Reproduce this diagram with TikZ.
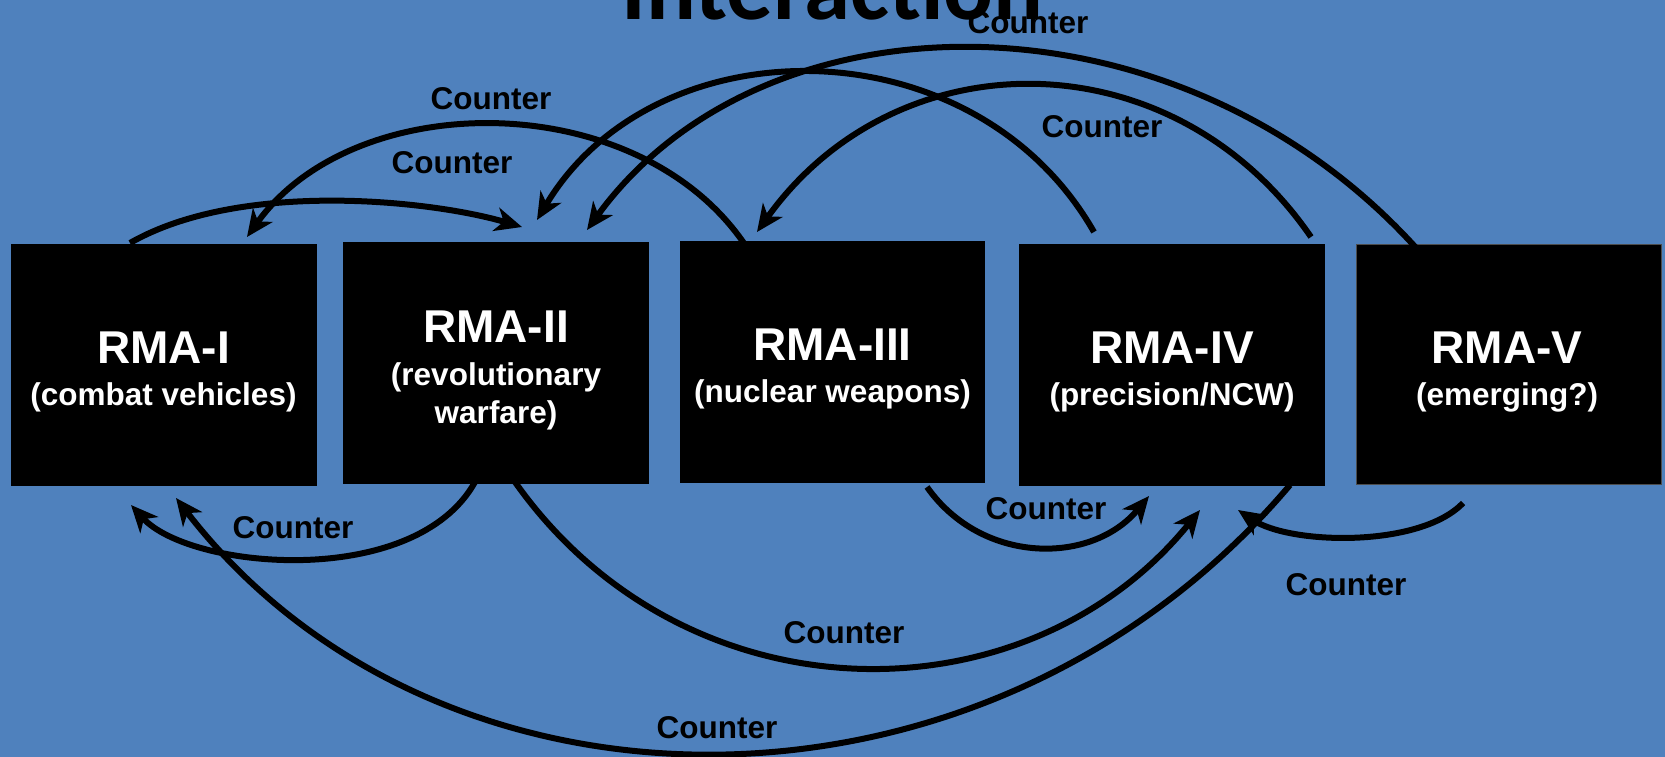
\documentclass[tikz,border=0pt]{standalone}
\usepackage{fontspec}
\setmainfont{Liberation Sans}
\newfontfamily\titlefont{Carlito}
\usetikzlibrary{arrows.meta}
\definecolor{bg}{RGB}{79,129,189}
\begin{document}
\begin{tikzpicture}[x=1pt,y=-1pt,
  box/.style={fill=black, inner sep=0, outer sep=0},
  big/.style={text=white, font=\fontsize{46}{46}\selectfont\bfseries, anchor=base, inner sep=0},
  sub/.style={text=white, font=\fontsize{31.5}{31.5}\selectfont\bfseries, anchor=base, inner sep=0},
  cnt/.style={font=\fontsize{31.5}{31.5}\selectfont\bfseries, inner sep=0},
  arr/.style={line width=6pt, -{Stealth[length=27pt,width=24pt,inset=8pt]}}
]
\path[fill=bg] (0,0) rectangle (1665,757);
\useasboundingbox (0,0) rectangle (1665,757);

% title (cropped at top)
\node[font=\titlefont\fontsize{93}{93}\selectfont\bfseries, anchor=base, inner sep=0] (title) at (832.5,20) {Interaction};

% boxes
\node[box, minimum width=306pt, minimum height=242pt] (b1) at (163.5,365) {};
\node[box, minimum width=306pt, minimum height=242pt] (b2) at (496,363) {};
\node[box, minimum width=305pt, minimum height=242pt] (b3) at (832.5,362) {};
\node[box, minimum width=306pt, minimum height=242pt] (b4) at (1172,365) {};
\node[box, draw=black!70, line width=1pt, minimum width=305pt, minimum height=240pt] (b5) at (1509,364.5) {};

% box texts
\node[big] (t1) at (163.5,363) {RMA-I};
\node[sub] (u1) at (163.5,405) {(combat vehicles)};
\node[big] (t2) at (496,342) {RMA-II};
\node[sub] (u2) at (496,385) {(revolutionary};
\node[sub] (v2) at (496,423) {warfare)};
\node[big] (t3) at (832.5,360) {RMA-III};
\node[sub] (u3) at (832.5,402) {(nuclear weapons)};
\node[big] (t4) at (1172,363) {RMA-IV};
\node[sub] (u4) at (1172,405) {(precision/NCW)};
\node[big] (t5) at (1507,363) {RMA-V};
\node[sub] (u5) at (1507,405) {(emerging?)};

% connector end points
\coordinate (s1) at (130,243);   \coordinate (e1) at (522,227);
\coordinate (s2) at (746.5,247); \coordinate (e2) at (247,237);
\coordinate (s3) at (1094,232);  \coordinate (e3) at (537,220);
\coordinate (s4) at (1418,250);  \coordinate (e4) at (587,230);
\coordinate (s5) at (1311,237);  \coordinate (e5) at (757,232);
\coordinate (s6) at (475,482);   \coordinate (e6) at (131,505);
\coordinate (s7) at (515,482);   \coordinate (e7) at (1200,510);
\coordinate (s8) at (1290,485);  \coordinate (e8) at (176,498);
\coordinate (s9) at (927,487);   \coordinate (e9) at (1149,496);
\coordinate (s10) at (1463,503); \coordinate (e10) at (1238,510);

% upper arcs
\draw[arr] (s1) .. controls (240,180) and (430,200) .. (e1);
\draw[arr] (s2) .. controls (640,86) and (355,86) .. (e2);
\draw[arr] (s3) .. controls (974,22) and (655,22) .. (e3);
\draw[arr] (s4) .. controls (1180,-15) and (765,-15) .. (e4);
\draw[arr] (s5) .. controls (1173,36) and (897,36) .. (e5);
% lower arcs
\draw[arr] (s6) .. controls (415,590) and (190,570) .. (e6);
\draw[arr] (s7) .. controls (686,724) and (1027,724) .. (e7);
\draw[arr] (s8) .. controls (990,840) and (440,840) .. (e8);
\draw[arr] (s9) .. controls (982,565) and (1092,565) .. (e9);
\draw[arr] (s10) .. controls (1420,548) and (1290,545) .. (e10);

% labels
\node[cnt] (c1) at (491,99) {Counter};
\node[cnt] (c2) at (452,163) {Counter};
\node[cnt] (c3) at (1028,23) {Counter};
\node[cnt] (c4) at (1102,127) {Counter};
\node[cnt] (c5) at (293,528) {Counter};
\node[cnt] (c6) at (844,633) {Counter};
\node[cnt] (c7) at (717,728) {Counter};
\node[cnt] (c8) at (1046,509) {Counter};
\node[cnt] (c9) at (1346,585) {Counter};
\end{tikzpicture}
\end{document}
